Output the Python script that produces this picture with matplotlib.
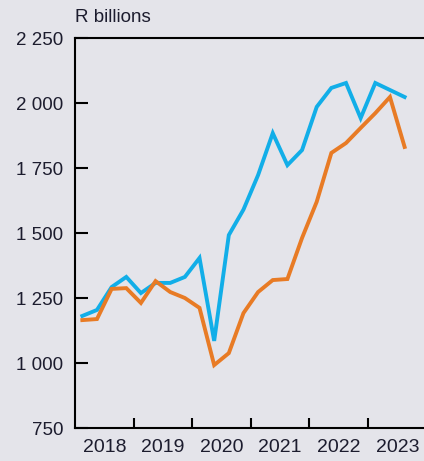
import numpy as np
import matplotlib.pyplot as plt

plt.rcParams['font.family'] = ['Liberation Sans', 'DejaVu Sans']

# quarterly, 2018 Q1 .. 2023 Q3
quarters = np.arange(23)
blue_vals = [1181, 1204, 1292, 1331, 1269, 1308, 1308, 1331, 1404, 1085,
             1492, 1590, 1723, 1884, 1761, 1819, 1985, 2058, 2077, 1942,
             2077, 2050, 2023]
orange_vals = [1165, 1169, 1285, 1288, 1231, 1315, 1273, 1250, 1212, 992,
               1038, 1192, 1273, 1319, 1323, 1481, 1620, 1808, 1846, 1904,
               1961, 2023, 1831]
years = [2018, 2019, 2020, 2021, 2022, 2023]
yticks = [750, 1000, 1250, 1500, 1750, 2000, 2250]

bg = '#e4e4ea'
txt = '#1c1c2e'
x = 2018 + (quarters + 0.5) / 4

fig = plt.figure(figsize=(4.24, 4.61), dpi=100, facecolor=bg)
ax = fig.add_axes([75/424, 1 - 428/461, 1 - 75/424, (428 - 38)/461])
ax.set_facecolor(bg)

ax.plot(x, blue_vals, color='#12aee8', lw=2.8, solid_joinstyle='miter')
ax.plot(x, orange_vals, color='#e87b25', lw=2.8, solid_joinstyle='miter')

ax.set_xlim(2018, 2023.956)
ax.set_ylim(750, 2250)

ax.set_yticks(yticks)
ax.set_yticklabels([f'{v:,}'.replace(',', ' ') for v in yticks])
ax.set_xticks(years[1:])
ax.set_xticklabels([])
ax.set_xticks([y + 0.5 for y in years], minor=True)
ax.set_xticklabels([str(y) for y in years], minor=True)

ax.tick_params(axis='y', direction='in', length=9, width=1.5, labelsize=13.5,
               labelcolor=txt, pad=8.5)
ax.tick_params(axis='x', which='major', direction='in', length=7.5, width=1.5)
ax.tick_params(axis='x', which='minor', length=0, labelsize=14,
               labelcolor=txt, pad=8)

for s in ['left', 'bottom', 'top']:
    ax.spines[s].set_linewidth(1.5)
ax.spines['right'].set_visible(False)

fig.text(75/424, 1 - 17/461, 'R billions', fontsize=13.5, color=txt,
         ha='left', va='center')

fig.savefig('out.png', dpi=100, facecolor=bg)
